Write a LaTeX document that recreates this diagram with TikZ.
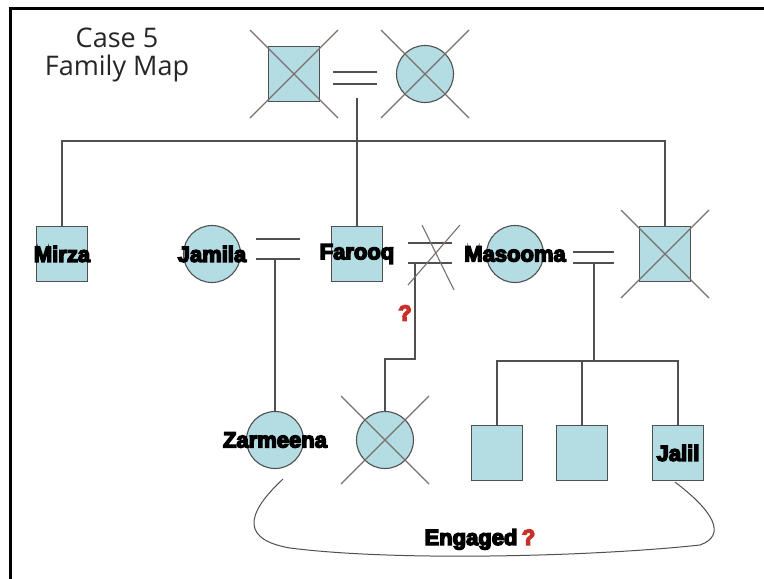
\documentclass[tikz,border=0pt]{standalone}
\usepackage{fontspec}
\setmainfont{Open Sans}
\newfontfamily\namefont{Liberation Sans}[UprightFont={* Bold}]
\usetikzlibrary{calc}
\definecolor{kinfill}{HTML}{B4DCE3}
\definecolor{kinline}{HTML}{505050}
\definecolor{crossline}{HTML}{7A706E}
\definecolor{qred}{HTML}{C8302A}
\tikzset{
  male/.style={draw=kinline,fill=kinfill,line width=1.2pt,minimum width=51pt,minimum height=55pt,inner sep=0pt},
  female/.style={draw=kinline,fill=kinfill,line width=1.1pt,circle,minimum size=57pt,inner sep=0pt},
  kin/.style={draw=kinline,line width=1.2pt},
  xline/.style={draw=crossline,line width=1.1pt},
  who/.style={font=\namefont\fontsize{22}{22}\selectfont,inner sep=0pt,execute at begin node=\special{pdf:literal direct 2 Tr 1.4 w},execute at end node=\special{pdf:literal direct 0 Tr}}
}
\begin{document}
\begin{tikzpicture}[x=1pt,y=-1pt]
    \useasboundingbox (0,0) rectangle (764,579);
    \fill[white] (0,0) rectangle (764,579);
    \draw[line width=3pt] (10.5,579)--(10.5,8.5)--(764,8.5);
    \node[font=\fontsize{27}{28}\selectfont,align=center,text=black!85] (title) at (117,55) {Case 5\\Family Map};
    % grandparents
    \node[male] (gf) at (294,74) {};
    \node[female] (gm) at (425,74) {};
    % second generation
    \node[male,label={[who]center:Mirza}] (mirza) at (62,254) {};
    \node[female,label={[who]center:Jamila}] (jamila) at (212,254) {};
    \node[male,label={[who]center:Farooq}] (farooq) at (357,254) {};
    \node[female,label={[who]center:Masooma}] (masooma) at (515,254) {};
    \node[male] (husb) at (665,254) {};
    % children
    \node[female,label={[who]center:Zarmeena}] (zarmeena) at (275,440) {};
    \node[female] (child) at (385,440) {};
    \node[male] (kid1) at (497,453) {};
    \node[male] (kid2) at (582,453) {};
    \node[male,label={[who]center:Jalil}] (jalil) at (678,453) {};
    % marriages
    \draw[kin] ($(gf.east)+(13,-2)$)--($(gm.west)+(-19,-2)$) ($(gf.east)+(13,10)$)--($(gm.west)+(-19,10)$);
    \draw[kin] ($(jamila.east)+(15,-15)$)--($(farooq.west)+(-31,-15)$) ($(jamila.east)+(15,5)$)--($(farooq.west)+(-31,5)$);
    \draw[kin] ($(farooq.east)+(25,-11)$)--($(masooma.west)+(-34,-11)$) ($(farooq.east)+(25,9)$)--($(masooma.west)+(-34,9)$);
    \draw[kin] ($(masooma.east)+(29,-2)$)--($(husb.west)+(-25,-2)$) ($(masooma.east)+(29,9)$)--($(husb.west)+(-25,9)$);
    % descent lines
    \coordinate (gpm) at (357,98);
    \coordinate (bar) at (357,141);
    \draw[kin] (gpm)--(farooq.north);
    \draw[kin] (mirza.north) |- (bar) -| (husb.north);
    \draw[kin] (zarmeena.north)--(zarmeena.north |- 0,259);
    \coordinate (fmm) at (415,263);
    \coordinate (fmstep) at (415,359);
    \draw[kin] (fmm)--(fmstep) -| (child.north);
    \coordinate (mmm) at (594,263);
    \coordinate (kbar) at (594,361);
    \draw[kin] (mmm)--(kbar);
    \draw[kin] (kid1.north) |- (kbar) -| (jalil.north);
    \draw[kin] (kid2.north)--(kid2.north |- kbar);
    % deceased
    \foreach \n in {gf,gm,husb,child}{
        \draw[xline] ($(\n)+(-44,-44)$)--($(\n)+(44,44)$);
        \draw[xline] ($(\n)+(44,-44)$)--($(\n)+(-44,44)$);
    }
    % divorce
    \coordinate (div) at (436,256);
    \draw[xline] ($(div)+(-14,-31)$)--($(div)+(18,34)$);
    \draw[xline] ($(div)+(24,-31)$)--($(div)+(-28,29)$);
    \node[who,text=qred] (fq) at (405,313) {?};
    % engagement
    \draw[kin,line width=1pt] ($(zarmeena.south)+(8,10)$) .. controls (255,505) and (232,538) .. (290,548)
        .. controls (400,562) and (600,556) .. (700,545) .. controls (728,535) and (712,510) .. ($(jalil.south)+(-3,1)$);
    \node[who,anchor=base] (eng) at (471,545) {Engaged};
    \node[who,text=qred,anchor=base west] (engq) at ([xshift=4pt]eng.base east) {?};
\end{tikzpicture}
\end{document}
